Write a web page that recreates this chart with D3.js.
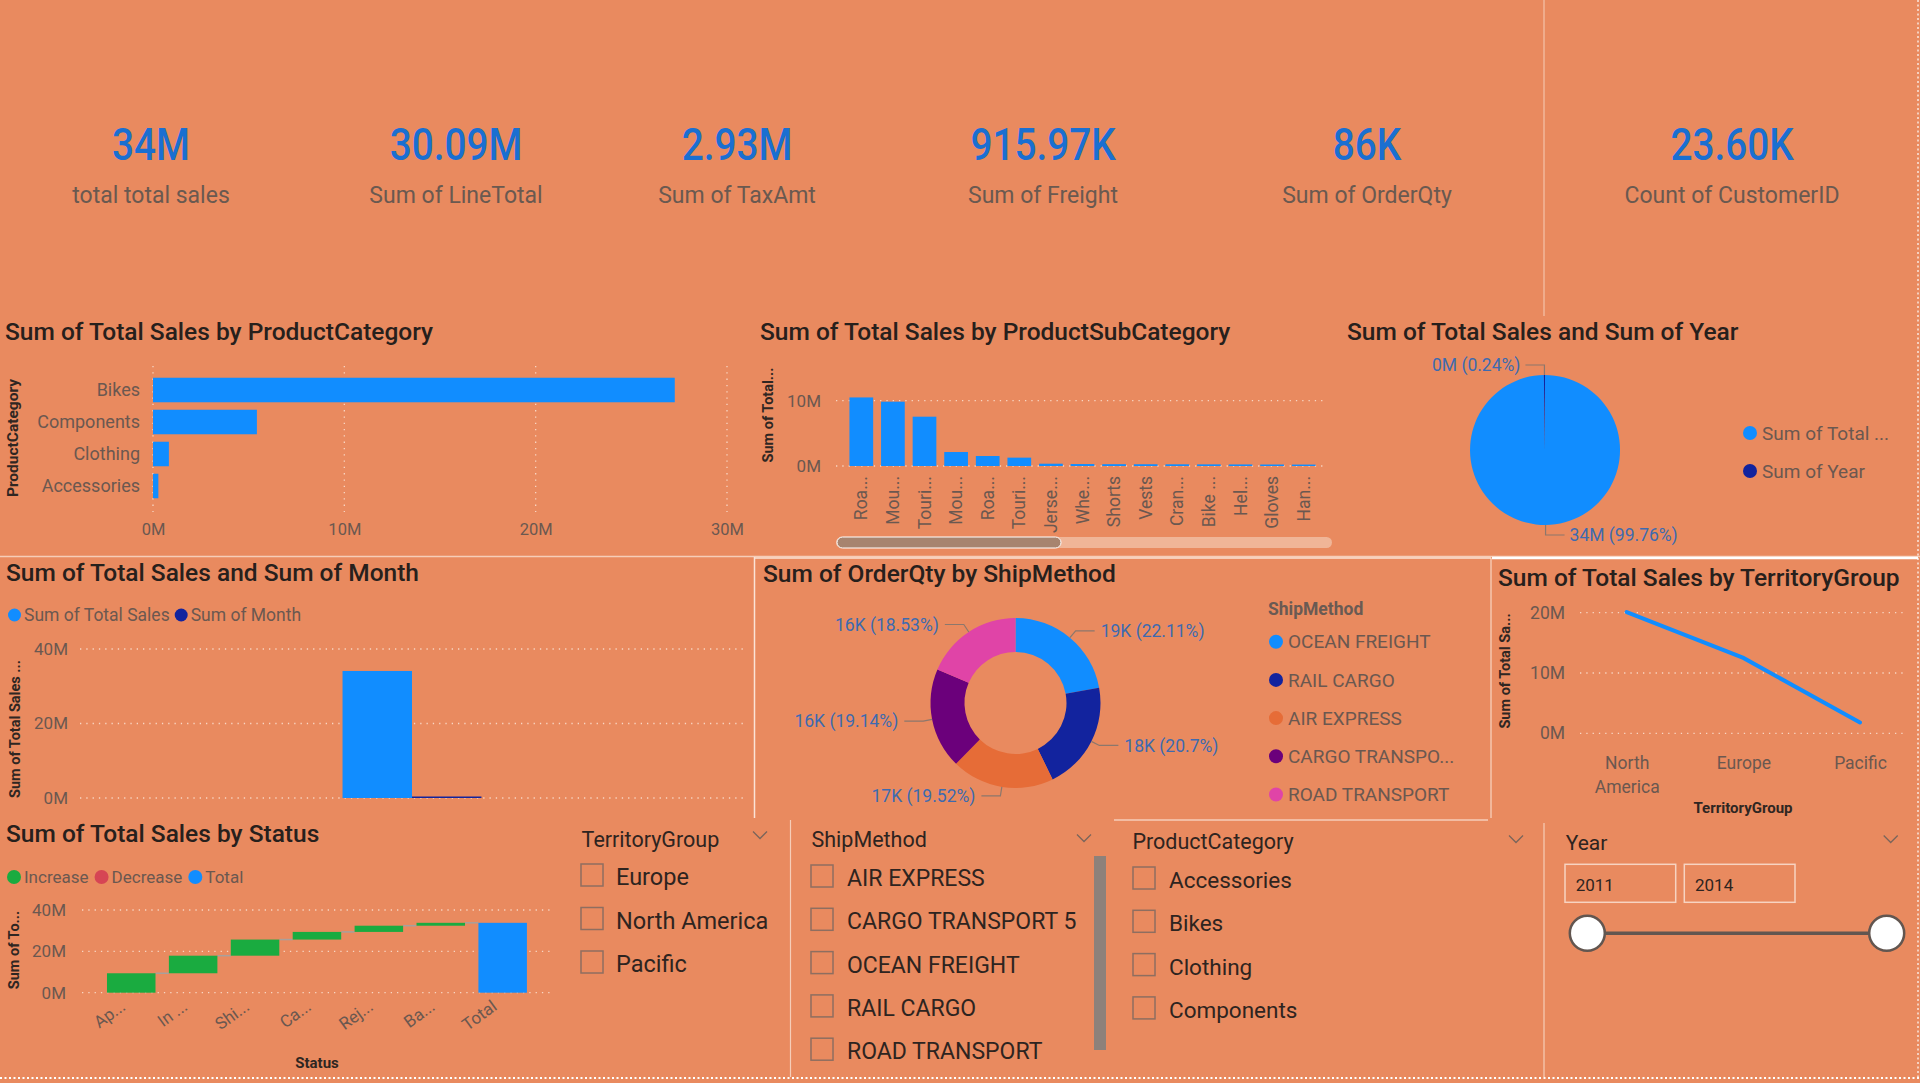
<!DOCTYPE html>
<html><head><meta charset="utf-8">
<script src="https://cdn.jsdelivr.net/npm/d3@7"></script>
<style>
html,body{margin:0;padding:0;background:#E98A5F;overflow:hidden}
svg{display:block}
</style></head><body>
<svg id="c" width="1920" height="1083"></svg>
<script>
// ---------------- DATA ----------------
const kpiValues = ["34M", "30.09M", "2.93M", "915.97K", "86K", "23.60K"];
const kpiLabels = ["total total sales", "Sum of LineTotal", "Sum of TaxAmt", "Sum of Freight", "Sum of OrderQty", "Count of CustomerID"];

const categories = ["Bikes", "Components", "Clothing", "Accessories"];
const categorySales = [27.27e6, 5.43e6, 0.83e6, 0.28e6];
const categoryTicks = [0, 10e6, 20e6, 30e6];

const subCategories = ["Roa...", "Mou...", "Touri...", "Mou...", "Roa...", "Touri...", "Jerse...", "Whe...", "Shorts", "Vests", "Cran...", "Bike ...", "Hel...", "Gloves", "Han..."];
const subCategorySales = [10.5e6, 9.85e6, 7.55e6, 2.14e6, 1.53e6, 1.28e6, 0.35e6, 0.3e6, 0.28e6, 0.27e6, 0.26e6, 0.25e6, 0.24e6, 0.23e6, 0.22e6];
const subCategoryTicks = [0, 10e6];

const yearPieSeries = ["Sum of Total Sales", "Sum of Year"];
const yearPieLegend = ["Sum of Total ...", "Sum of Year"];
const yearPieValues = [34000000, 81800];

const monthSeries = ["Sum of Total Sales", "Sum of Month"];
const monthValues = [34.1e6, 0.4e6];
const monthTicks = [0, 20e6, 40e6];

const shipMethods = ["OCEAN FREIGHT", "RAIL CARGO", "AIR EXPRESS", "CARGO TRANSPORT 5", "ROAD TRANSPORT"];
const shipQty = [19015, 17803, 16788, 16461, 15936];

const territories = ["North America", "Europe", "Pacific"];
const territorySales = [20.1e6, 12.5e6, 1.8e6];
const territoryTicks = [0, 10e6, 20e6];

const statusNames = ["Ap...", "In ...", "Shi...", "Ca...", "Rej...", "Ba...", "Total"];
const statusDeltas = [9.4e6, 8.5e6, 7.8e6, 3.7e6, 3.0e6, 1.4e6];
const statusTicks = [0, 20e6, 40e6];
const waterfallLegend = ["Increase", "Decrease", "Total"];

const territoryOptions = ["Europe", "North America", "Pacific"];
const shipOptions = ["AIR EXPRESS", "CARGO TRANSPORT 5", "OCEAN FREIGHT", "RAIL CARGO", "ROAD TRANSPORT"];
const productOptions = ["Accessories", "Bikes", "Clothing", "Components"];
const yearRange = [2011, 2014];

// ---------------- STYLE ----------------
const FONT = "Roboto, 'Open Sans', sans-serif";
const C = {
  title: "#27201C", axis: "#6B5850", axisTitle: "#2F2622", blue: "#118DFF", dark: "#12239E",
  orange: "#E66C37", purple: "#6B007B", pink: "#E044A7", green: "#1AAB40", red: "#D64554",
  grid: "#F8D6C4", label: "#3D6AB0", kpi: "#1A6FD1", line: "#F6CDB8", leader: "#8C776C",
  box: "#8E6E60", slicerText: "#2E2420"
};
const svg = d3.select("#c");
const fmtM = d => Math.round(d / 1e6) + "M";

function addText(parent, x, y, str, o = {}) {
  return parent.append("text").attr("x", x).attr("y", y)
    .attr("font-family", o.family || FONT).attr("font-size", o.size || 16)
    .attr("font-weight", o.weight || 400).attr("fill", o.fill || C.axis)
    .attr("text-anchor", o.anchor || "start").attr("dy", o.dy || null)
    .text(str);
}
function title(x, y, str) { return addText(svg, x, y, str, {size: 24.5, weight: 500, fill: C.title}); }
function yTitle(x, cy, str, size = 14.5) {
  svg.append("text").attr("transform", `translate(${x},${cy}) rotate(-90)`)
    .attr("text-anchor", "middle").attr("dy", "0.35em").attr("font-family", FONT)
    .attr("font-size", size).attr("font-weight", 700).attr("fill", C.axisTitle).text(str);
}
function styleAxis(g, size) {
  g.select(".domain").remove();
  g.selectAll(".tick line").remove();
  g.selectAll("text").attr("fill", C.axis).attr("font-size", size).attr("font-family", FONT);
}
function hGrid(scale, ticks, x1, x2) {
  svg.append("g").selectAll("line").data(ticks).join("line")
    .attr("x1", x1).attr("x2", x2).attr("y1", d => scale(d)).attr("y2", d => scale(d))
    .attr("stroke", C.grid).attr("stroke-width", 1.3).attr("stroke-dasharray", "1.3,5");
}
function legendRow(x, y, items, colors, size, r, gap) {
  let cur = x;
  items.forEach((it, i) => {
    svg.append("circle").attr("cx", cur + r).attr("cy", y).attr("r", r).attr("fill", colors[i]);
    const t = addText(svg, cur + 2 * r + 3, y, it, {size, dy: "0.35em"});
    cur = cur + 2 * r + 3 + t.node().getComputedTextLength() + gap;
  });
}
function chevron(x, y) {
  svg.append("path").attr("d", `M${x - 7},${y - 3.5} L${x},${y + 3.5} L${x + 7},${y - 3.5}`)
    .attr("fill", "none").attr("stroke", "#7A655B").attr("stroke-width", 1.3);
}

// ---------------- PANEL LINES ----------------
const lines = svg.append("g").attr("stroke", C.line).attr("fill", "none");
lines.append("line").attr("x1", 1544).attr("x2", 1544).attr("y1", 0).attr("y2", 316).attr("stroke-width", 1);
lines.append("line").attr("x1", 0).attr("x2", 1920).attr("y1", 556.5).attr("y2", 556.5).attr("stroke-width", 1.5);
lines.append("line").attr("x1", 1492).attr("x2", 1918).attr("y1", 558).attr("y2", 558).attr("stroke", "#FFFFFF").attr("stroke-width", 2.5);
lines.append("line").attr("x1", 754.5).attr("x2", 754.5).attr("y1", 557).attr("y2", 818).attr("stroke", "#FBE3D6").attr("stroke-width", 1.5);
lines.append("line").attr("x1", 754.5).attr("x2", 1491).attr("y1", 558).attr("y2", 558).attr("stroke", "#FBE3D6").attr("stroke-width", 1.5);
lines.append("line").attr("x1", 1491).attr("x2", 1491).attr("y1", 558).attr("y2", 818).attr("stroke", "#FBE3D6").attr("stroke-width", 1);
lines.append("line").attr("x1", 1114).attr("x2", 1488).attr("y1", 820).attr("y2", 820).attr("stroke-width", 1.5);
lines.append("line").attr("x1", 790.5).attr("x2", 790.5).attr("y1", 820).attr("y2", 1077).attr("stroke-width", 1.2);
lines.append("line").attr("x1", 1544).attr("x2", 1544).attr("y1", 823).attr("y2", 1077).attr("stroke-width", 1.2);
lines.append("line").attr("x1", 0).attr("x2", 1920).attr("y1", 1078).attr("y2", 1078).attr("stroke", "#FFFFFF").attr("stroke-width", 2).attr("stroke-dasharray", "2,2.5");
lines.append("line").attr("x1", 1918).attr("x2", 1918).attr("y1", 0).attr("y2", 1078).attr("stroke", "#FFFFFF").attr("stroke-width", 1.2).attr("stroke-dasharray", "2,2.5");

// ---------------- KPI CARDS ----------------
const kpiCenters = [151, 456, 737, 1043, 1367, 1732];
kpiValues.forEach((v, i) => {
  svg.append("text").attr("transform", `translate(${kpiCenters[i]},160) scale(0.88,1)`)
    .attr("text-anchor", "middle").attr("font-family", FONT).attr("font-size", 44).attr("font-weight", 500)
    .attr("fill", C.kpi).text(v);
  addText(svg, kpiCenters[i], 202.5, kpiLabels[i], {size: 23, anchor: "middle", fill: "#6A5950"});
});

// ---------------- 1. Sales by ProductCategory ----------------
title(5, 340, "Sum of Total Sales by ProductCategory");
{
  const x = d3.scaleLinear([0, 30e6], [153, 727]);
  const y = d3.scaleBand(categories, [374, 502]).paddingInner(0.234).paddingOuter(0.117);
  svg.append("g").selectAll("line").data(categoryTicks).join("line")
    .attr("x1", d => x(d)).attr("x2", d => x(d)).attr("y1", 366).attr("y2", 512)
    .attr("stroke", C.grid).attr("stroke-width", 1.3).attr("stroke-dasharray", "1.3,5");
  svg.append("g").selectAll("rect").data(categories).join("rect")
    .attr("x", x(0)).attr("y", d => y(d)).attr("height", y.bandwidth())
    .attr("width", (d, i) => x(categorySales[i]) - x(0)).attr("fill", C.blue);
  const gy = svg.append("g").attr("transform", "translate(140,0)")
    .call(d3.axisLeft(y).tickSize(0).tickPadding(0));
  styleAxis(gy, 18);
  const gx = svg.append("g").attr("transform", "translate(0,523)")
    .call(d3.axisBottom(x).tickValues(categoryTicks).tickFormat(fmtM).tickSize(0).tickPadding(0));
  styleAxis(gx, 16.5);
  yTitle(13, 438, "ProductCategory", 15.5);
}

// ---------------- 2. Sales by ProductSubCategory ----------------
title(760, 340, "Sum of Total Sales by ProductSubCategory");
{
  const idx = d3.range(subCategories.length);
  const x = d3.scaleBand(idx, [845.5, 1319.5]).paddingInner(0.25).paddingOuter(0.125);
  const y = d3.scaleLinear([0, 10e6], [466, 400.7]);
  hGrid(y, subCategoryTicks, 836, 1326);
  svg.append("g").selectAll("rect").data(idx).join("rect")
    .attr("x", d => x(d)).attr("width", x.bandwidth())
    .attr("y", d => y(subCategorySales[d])).attr("height", d => y(0) - y(subCategorySales[d]))
    .attr("fill", C.blue);
  const gy = svg.append("g").attr("transform", "translate(821,0)")
    .call(d3.axisLeft(y).tickValues(subCategoryTicks).tickFormat(fmtM).tickSize(0).tickPadding(0));
  styleAxis(gy, 17);
  const gx = svg.append("g").attr("transform", "translate(0,476)")
    .call(d3.axisBottom(x).tickFormat(d => subCategories[d]).tickSize(0).tickPadding(0));
  styleAxis(gx, 17.5);
  gx.selectAll("text").attr("transform", "rotate(-90)").attr("text-anchor", "end")
    .attr("x", 0).attr("y", 0).attr("dy", "0.35em");
  yTitle(768, 415, "Sum of Total...", 14.5);
  svg.append("rect").attr("x", 836).attr("y", 537).attr("width", 496).attr("height", 11).attr("rx", 5.5).attr("fill", "#F0B597");
  svg.append("rect").attr("x", 837).attr("y", 537).attr("width", 224).attr("height", 11).attr("rx", 5.5)
    .attr("fill", "#A7846F").attr("stroke", "#FFFFFF").attr("stroke-width", 1);
}

// ---------------- 3. Pie Total Sales & Year ----------------
title(1347, 340, "Sum of Total Sales and Sum of Year");
{
  const cx = 1545, cy = 450, r = 75;
  const total = d3.sum(yearPieValues);
  const arcs = d3.pie().sort(null)(yearPieValues);
  const arc = d3.arc().innerRadius(0).outerRadius(r);
  const colors = [C.blue, C.dark];
  const g = svg.append("g").attr("transform", `translate(${cx},${cy})`);
  g.selectAll("path").data(arcs).join("path").attr("d", arc).attr("fill", (d, i) => colors[i]);
  arcs.forEach((a, i) => {
    const m = (a.startAngle + a.endAngle) / 2;
    const sx = Math.sin(m) >= 0 ? 1 : -1, sy = Math.cos(m) >= 0 ? -1 : 1;
    const p0 = [r * Math.sin(m), -r * Math.cos(m)];
    const p1 = [p0[0], p0[1] + sy * 10];
    const p2 = [p1[0] + sx * 19, p1[1]];
    g.append("path").attr("d", d3.line()([p0, p1, p2])).attr("fill", "none").attr("stroke", C.leader).attr("stroke-width", 1.2);
    const pct = (yearPieValues[i] / total * 100).toFixed(2).replace(/\.?0+$/, "");
    addText(g, p2[0] + sx * 5, p2[1], `${fmtM(yearPieValues[i])} (${pct}%)`,
      {size: 17.5, fill: C.label, anchor: sx > 0 ? "start" : "end", dy: "0.35em"});
  });
  yearPieLegend.forEach((s, i) => {
    svg.append("circle").attr("cx", 1750).attr("cy", 433 + i * 38).attr("r", 7).attr("fill", colors[i]);
    addText(svg, 1762, 433 + i * 38, s, {size: 19, dy: "0.35em"});
  });
}

// ---------------- 4. Total Sales & Month ----------------
title(6, 581, "Sum of Total Sales and Sum of Month");
{
  legendRow(8, 615, monthSeries, [C.blue, C.dark], 17.5, 6.5, 5);
  const y = d3.scaleLinear([0, 40e6], [798, 649]);
  const x0 = d3.scaleBand(["All"], [80, 744]).paddingInner(0).paddingOuter(1.89);
  const x1 = d3.scaleBand(monthSeries, [0, x0.bandwidth()]);
  hGrid(y, monthTicks, 80, 744);
  svg.append("g").selectAll("rect").data(monthSeries).join("rect")
    .attr("x", d => x0("All") + x1(d)).attr("width", x1.bandwidth())
    .attr("y", (d, i) => y(monthValues[i])).attr("height", (d, i) => y(0) - y(monthValues[i]))
    .attr("fill", (d, i) => [C.blue, C.dark][i]);
  const gy = svg.append("g").attr("transform", "translate(68,0)")
    .call(d3.axisLeft(y).tickValues(monthTicks).tickFormat(fmtM).tickSize(0).tickPadding(0));
  styleAxis(gy, 17);
  yTitle(15, 729, "Sum of Total Sales ...", 14.5);
}

// ---------------- 5. OrderQty by ShipMethod (donut) ----------------
title(763, 582, "Sum of OrderQty by ShipMethod");
{
  const cx = 1015.5, cy = 703, ro = 85, ri = 51;
  const colors = [C.blue, C.dark, C.orange, C.purple, C.pink];
  const total = d3.sum(shipQty);
  const arcs = d3.pie().sort(null)(shipQty);
  const arc = d3.arc().innerRadius(ri).outerRadius(ro);
  const g = svg.append("g").attr("transform", `translate(${cx},${cy})`);
  g.selectAll("path").data(arcs).join("path").attr("d", arc).attr("fill", (d, i) => colors[i]);
  arcs.forEach((a, i) => {
    const m = (a.startAngle + a.endAngle) / 2;
    const sx = Math.sin(m) >= 0 ? 1 : -1;
    const p0 = [ro * Math.sin(m), -ro * Math.cos(m)];
    const p1 = [(ro + 9) * Math.sin(m), -(ro + 9) * Math.cos(m)];
    const p2 = [p1[0] + sx * 19, p1[1]];
    g.append("path").attr("d", d3.line()([p0, p1, p2])).attr("fill", "none").attr("stroke", C.leader).attr("stroke-width", 1.2);
    const pct = (shipQty[i] / total * 100).toFixed(2).replace(/\.?0+$/, "");
    addText(g, p2[0] + sx * 6, p2[1], `${Math.round(shipQty[i] / 1000)}K (${pct}%)`,
      {size: 17.5, fill: C.label, anchor: sx > 0 ? "start" : "end", dy: "0.35em"});
  });
  addText(svg, 1268, 615, "ShipMethod", {size: 17.5, weight: 700, fill: "#6A5A53"});
  shipMethods.forEach((s, i) => {
    const yy = 641.7 + i * 38.2;
    svg.append("circle").attr("cx", 1276).attr("cy", yy).attr("r", 7).attr("fill", colors[i]);
    addText(svg, 1288, yy, s.length > 15 ? s.slice(0, 13) + "..." : s, {size: 19, dy: "0.35em"});
  });
}

// ---------------- 6. Sales by TerritoryGroup (line) ----------------
title(1498, 586, "Sum of Total Sales by TerritoryGroup");
{
  const x = d3.scalePoint(territories, [1626.7, 1860]);
  const y = d3.scaleLinear([0, 20e6], [733.3, 612.7]);
  hGrid(y, territoryTicks, 1580, 1905);
  svg.append("path").datum(territories)
    .attr("d", d3.line().x(d => x(d)).y((d, i) => y(territorySales[i])))
    .attr("fill", "none").attr("stroke", C.blue).attr("stroke-width", 4).attr("stroke-linecap", "round");
  const gy = svg.append("g").attr("transform", "translate(1565,0)")
    .call(d3.axisLeft(y).tickValues(territoryTicks).tickFormat(fmtM).tickSize(0).tickPadding(0));
  styleAxis(gy, 17.5);
  const gx = svg.append("g").attr("transform", "translate(0,750)")
    .call(d3.axisBottom(x).tickSize(0).tickPadding(0));
  styleAxis(gx, 17.5);
  gx.selectAll("text").each(function (d) {
    const t = d3.select(this); t.text(null).attr("dy", null).attr("y", 19);
    d.split(" ").forEach((w, k) => t.append("tspan").attr("x", 0).attr("dy", k ? 24 : 0).text(w));
  });
  addText(svg, 1743, 813, "TerritoryGroup", {size: 15, weight: 700, anchor: "middle", fill: C.axisTitle});
  yTitle(1505, 671, "Sum of Total Sa...", 14.5);
}

// ---------------- 7. Sales by Status (waterfall) ----------------
title(6, 842, "Sum of Total Sales by Status");
{
  legendRow(7, 877, waterfallLegend, [C.green, C.red, C.blue], 17, 7, 6);
  let cum = 0;
  const wf = statusNames.map((name, i) => {
    if (i === statusNames.length - 1) return {name, y0: 0, y1: cum, type: "Total"};
    const d = {name, y0: cum, y1: cum + statusDeltas[i], type: statusDeltas[i] >= 0 ? "Increase" : "Decrease"};
    cum += statusDeltas[i];
    return d;
  });
  const x = d3.scaleBand(statusNames, [100.3, 533.6]).paddingInner(0.2165).paddingOuter(0.108);
  const y = d3.scaleLinear([0, 40e6], [992.7, 910]);
  hGrid(y, statusTicks, 82, 551);
  const col = {Increase: C.green, Decrease: C.red, Total: C.blue};
  svg.append("g").selectAll("line").data(wf.slice(0, -1)).join("line")
    .attr("x1", d => x(d.name) + x.bandwidth()).attr("x2", (d, i) => x(wf[i + 1].name))
    .attr("y1", d => y(d.y1)).attr("y2", d => y(d.y1))
    .attr("stroke", "#A8A09C").attr("stroke-width", 1.5);
  svg.append("g").selectAll("rect").data(wf).join("rect")
    .attr("x", d => x(d.name)).attr("width", x.bandwidth())
    .attr("y", d => y(Math.max(d.y0, d.y1))).attr("height", d => Math.abs(y(d.y0) - y(d.y1)))
    .attr("fill", d => col[d.type]);
  const gy = svg.append("g").attr("transform", "translate(66,0)")
    .call(d3.axisLeft(y).tickValues(statusTicks).tickFormat(fmtM).tickSize(0).tickPadding(0));
  styleAxis(gy, 17);
  const gx = svg.append("g").attr("transform", "translate(0,1001)")
    .call(d3.axisBottom(x).tickSize(0).tickPadding(0));
  styleAxis(gx, 17);
  gx.selectAll("text").attr("x", 0).attr("y", 0).attr("dy", "0.35em")
    .attr("text-anchor", "end").attr("transform", "translate(-8,3) rotate(-36)");
  addText(svg, 317, 1068, "Status", {size: 15, weight: 700, anchor: "middle", fill: C.axisTitle});
  yTitle(14, 950, "Sum of To...", 14.5);
}

// ---------------- SLICERS ----------------
function slicer(hx, hy, header, chevX, chevY, boxX, textX, firstBase, step, options, size) {
  addText(svg, hx, hy, header, {size: 21.5, fill: C.slicerText});
  chevron(chevX, chevY);
  options.forEach((o, i) => {
    const b = firstBase + i * step;
    svg.append("rect").attr("x", boxX).attr("y", b - 21).attr("width", 22).attr("height", 22)
      .attr("fill", "none").attr("stroke", C.box).attr("stroke-width", 1.5);
    addText(svg, textX, b, o, {size, fill: C.slicerText});
  });
}
slicer(581.6, 847, "TerritoryGroup", 760, 835, 581, 616, 885, 43.5, territoryOptions, 23.5);
slicer(811.5, 847, "ShipMethod", 1084, 838, 811, 847, 886, 43.3, shipOptions, 23);
svg.append("rect").attr("x", 1094).attr("y", 856).attr("width", 12).attr("height", 194).attr("fill", "#8E817A");
slicer(1132.4, 849, "ProductCategory", 1516, 839, 1133, 1169, 888, 43.3, productOptions, 22.5);

// Year range slicer
addText(svg, 1565.7, 850, "Year", {size: 21, fill: C.slicerText});
chevron(1890.7, 839);
yearRange.forEach((yr, i) => {
  const bx = 1565 + i * 119.3;
  svg.append("rect").attr("x", bx).attr("y", 864.3).attr("width", 110.7).attr("height", 38)
    .attr("fill", "none").attr("stroke", "#F7D3C1").attr("stroke-width", 1.5);
  addText(svg, bx + 10.7, 890.7, String(yr), {size: 17, fill: C.slicerText});
});
{
  const sx = d3.scaleLinear(yearRange, [1587.3, 1886.7]);
  svg.append("line").attr("x1", sx(yearRange[0])).attr("x2", sx(yearRange[1])).attr("y1", 933.3).attr("y2", 933.3)
    .attr("stroke", "#625650").attr("stroke-width", 3.5);
  svg.append("g").selectAll("circle").data(yearRange).join("circle")
    .attr("cx", d => sx(d)).attr("cy", 933.3).attr("r", 17.5)
    .attr("fill", "#FFFFFF").attr("stroke", "#625650").attr("stroke-width", 2.5);
}
</script>
</body></html>
